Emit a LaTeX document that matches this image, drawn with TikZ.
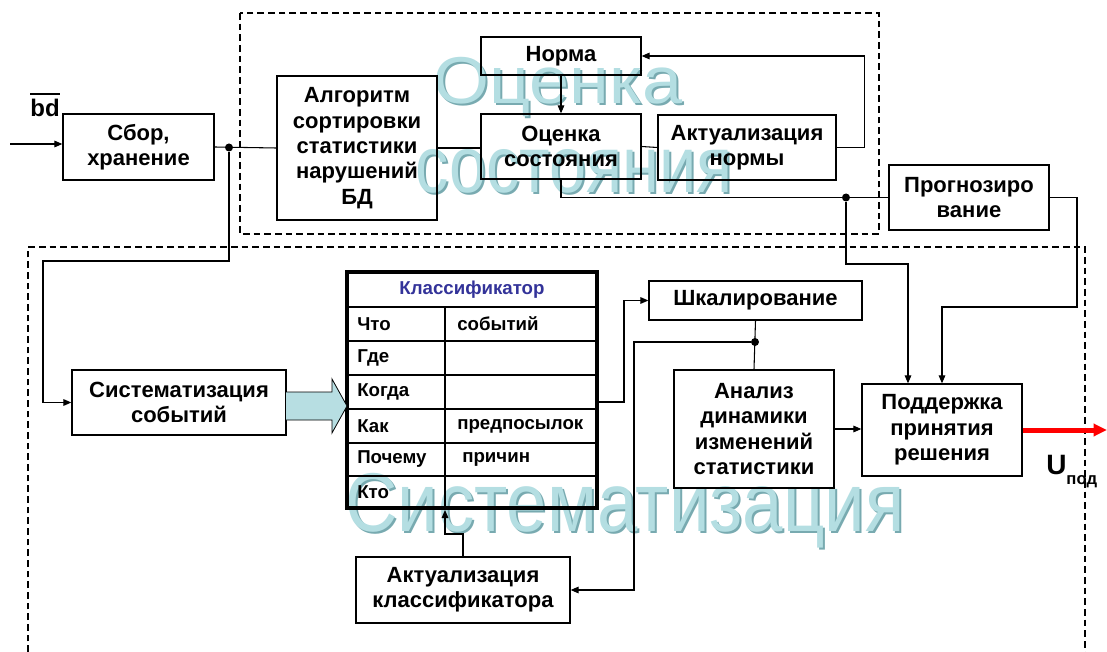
\documentclass[tikz,border=0pt]{standalone}
\usepackage{graphicx}
\usepackage{fontspec}
\setmainfont{Liberation Sans}
\usetikzlibrary{arrows.meta}
\definecolor{wmfill}{RGB}{180,222,226}
\definecolor{wmshade}{RGB}{120,170,176}
\definecolor{hdblue}{RGB}{51,51,153}
\definecolor{fatfill}{RGB}{183,222,226}
\tikzset{
  blk/.style={draw, line width=1pt, align=center, inner sep=2pt,
    font=\fontsize{16.5}{19}\selectfont\bfseries},
  sz/.style 2 args={minimum width=#1*0.75pt, minimum height=#2*0.75pt},
  conn/.style={line width=0.8pt},
  arr/.style={conn, -{Triangle[length=6pt,width=5pt]}},
  frame/.style={line width=0.8pt, dash pattern=on 5pt off 3pt},
  dot/.style={circle, fill, inner sep=0pt, minimum size=6pt},
  gridln/.style={line width=1.2pt},
  cell/.style={anchor=west, inner sep=0pt, font=\fontsize{14}{16}\selectfont\bfseries},
  wm/.style={anchor=base west, inner sep=0pt, text=wmfill},
  wmsh/.style={wm, text=wmshade, xshift=1.5pt, yshift=-1.5pt}
}

\begin{document}
\begin{tikzpicture}[x=0.75pt, y=-0.75pt]
\useasboundingbox (0,0) rectangle (1107,652);

% watermarks
\node[wmsh, font=\fontsize{54}{60}\selectfont] at (433,104) {\scalebox{1}[0.92]{Оценка}};
\node[wm, font=\fontsize{54}{60}\selectfont] (wmocen) at (433,104) {\scalebox{1}[0.92]{Оценка}};
\node[wmsh, font=\fontsize{50}{60}\selectfont] at (415,193) {\scalebox{1}[1.2]{состояния}};
\node[wm, font=\fontsize{50}{60}\selectfont] (wmsost) at (415,193) {\scalebox{1}[1.2]{состояния}};
\node[wmsh, font=\fontsize{54.4}{60}\selectfont] at (345,531) {\scalebox{1}[1.15]{Систематизация}};
\node[wm, font=\fontsize{54.4}{60}\selectfont] (wmsist) at (345,531) {\scalebox{1}[1.15]{Систематизация}};

% dashed frames
\draw[frame] (240,13) rectangle (879,234);
\draw[frame] (28,652) -- (28,247) -- (1085,247) -- (1085,652);

% blocks
\node[blk, sz={151}{66}] (sbor) at (138.5,147) {\fontsize{16.5}{14}\selectfont Сбор,\\хранение};
\node[blk, sz={160}{144}] (algo) at (357,148) {Алгоритм\\сортировки\\статистики\\нарушений\\БД};
\node[blk, sz={160}{38}] (norma) at (561,56) {Норма};
\node[blk, sz={160}{65}] (ocenka) at (561,146.5) {Оценка\\состояния};
\node[blk, sz={178}{65}] (aktnorm) at (747,147.5) {Актуализация\\нормы};
\node[blk, sz={160}{65}] (prog) at (969,197.5) {Прогнозиро\\вание};
\node[blk, sz={214}{65}] (sist) at (179,402.5) {Систематизация\\событий};
\node[blk, sz={213}{39}] (shkal) at (755.5,300.5) {Шкалирование};
\node[blk, sz={160}{118}] (analiz) at (754,429) {Анализ\\динамики\\изменений\\статистики};
\node[blk, sz={160}{92}] (podd) at (942,430) {Поддержка\\принятия\\решения};
\node[blk, sz={214}{66}] (aktklass) at (463,590) {Актуализация\\классификатора};

% classifier table
\node[draw, line width=3pt, sz={250}{236}] (klass) at (472,390) {};
\draw[gridln, line width=1.5pt] (347,307) -- (597,307);
\foreach \yy in {341,375,409,443,476}
  \draw[gridln] (347,\yy) -- (597,\yy);
\draw[gridln] (445,307) -- (445,508);
\node[font=\fontsize{14}{16}\selectfont\bfseries, text=hdblue] (khead) at (472,290) {Классификатор};
\node[cell] (kwhat) at (357,324) {Что};
\node[cell] (kwhere) at (357,358) {Где};
\node[cell] (kwhen) at (357,392) {Когда};
\node[cell] (khow) at (357,426) {Как};
\node[cell] (kwhy) at (357,459.5) {Почему};
\node[cell] (kwho) at (357,492) {Кто};
\node[cell] (kev) at (457,324) {событий};
\node[cell] (kpre) at (457,426) {предпосылок};
\node[cell] (kcause) at (462,459.5) {причин};

% input label
\node[anchor=base, inner sep=0pt, font=\fontsize{18}{20}\selectfont\bfseries] (bd) at (45,117) {bd};
\draw[line width=2.2pt] ([yshift=4pt]bd.north west) -- ([yshift=4pt]bd.north east);
\coordinate (in) at (10,144);

% junctions
\node[dot] (j1) at (229,147.5) {};
\node[dot] (j2) at (846,197.5) {};
\node[dot] (j3) at (755,342) {};

% connectors
\draw[arr] (in) -- (in -| sbor.west);
\draw[conn] (sbor.east) -- (algo.west);
\draw[arr] (j1) |- (43,261) |- (sist.west);
\draw[conn] (algo.east) -- (algo.east -| ocenka.west);
\draw[arr] (norma.south) -- (ocenka.north);
\draw[conn] (ocenka.east) -- (aktnorm.west);
\draw[arr] (aktnorm.east) -- ++(28,0) |- (norma.east);
\draw[conn] (ocenka.south) |- (j2) -- (prog.west);
\draw[arr] (j2) -- (846,264) -| ([xshift=-25.5pt]podd.north);
\draw[arr] (prog.east) -| (1077,307) -| (podd.north);
\draw[arr] ([yshift=-9pt]klass.east) -- ++(25,0) |- (shkal.west);
\draw[conn] (shkal.south) -- (analiz.north);
\draw[arr] (j3) -| (634,590) -- (aktklass.east);
\draw[arr] (aktklass.north) |- (445,534) -- ([xshift=-20.25pt]klass.south);
\draw[arr] (analiz.east) -- (analiz.east -| podd.west);

% wide arrow into the classifier
\filldraw[fill=fatfill, draw=black, line width=0.6pt] (286,392) -- (332,392) -- (332,379) -- (347,406) -- (332,433) -- (332,420) -- (286,420);

% output
\coordinate (uend) at (1107,430);
\draw[line width=3.75pt, red, -{Triangle[length=10pt,width=9pt]}] (podd.east) -- (uend);
\node[anchor=base west, inner sep=0pt, font=\fontsize{21}{24}\selectfont\bfseries] (uout) at (1046,474) {U\raisebox{-7.5pt}{\fontsize{12.5}{14}\selectfont под}};
\end{tikzpicture}
\end{document}
